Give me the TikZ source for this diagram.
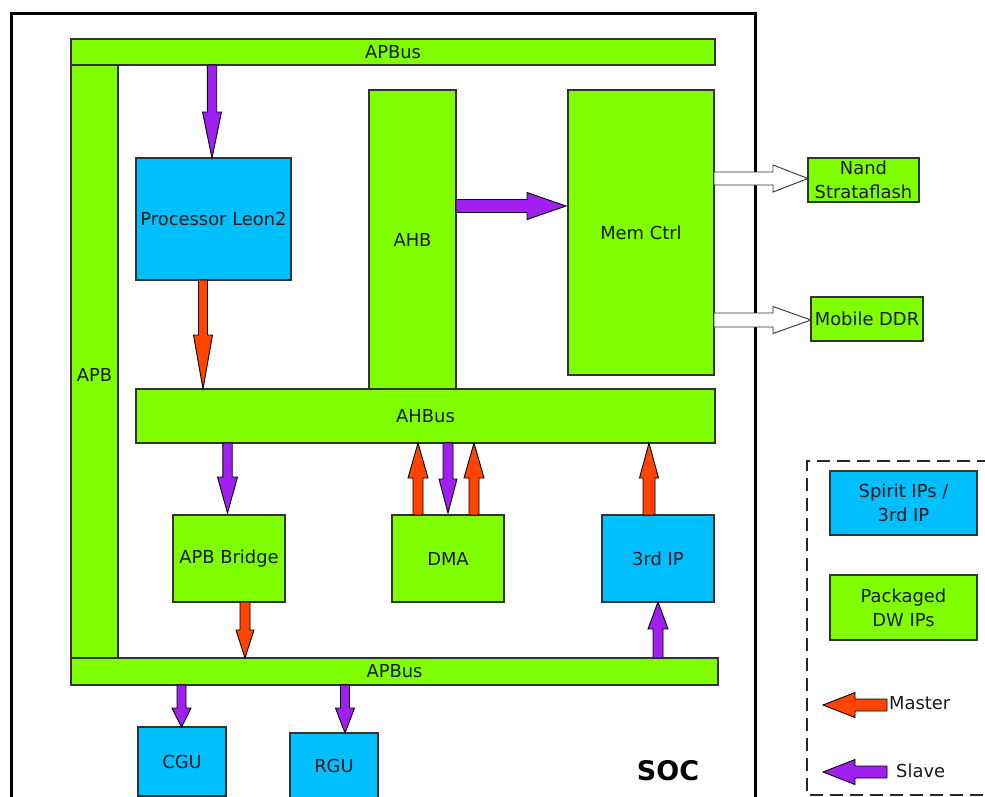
\documentclass[tikz,border=0pt]{standalone}
\usepackage{fontspec}
\setmainfont{DejaVu Sans}
\usetikzlibrary{calc}
\definecolor{grn}{RGB}{127,255,0}
\definecolor{blu}{RGB}{0,191,255}
\definecolor{orng}{RGB}{255,69,0}
\definecolor{purp}{RGB}{160,32,240}
\definecolor{txt}{RGB}{25,25,25}
\newcommand\fs{\fontsize{17.9}{24}\selectfont}
% block arrow: style, from, to, shaft half width, head half width, head length
\newcommand\barrow[6]{%
  \coordinate (ba-s) at #2;
  \coordinate (ba-e) at #3;
  \coordinate (ba-h) at ($(ba-e)!#6!(ba-s)$);
  \draw[#1] ($(ba-s)!#4!90:(ba-e)$) -- ($(ba-h)!#4!90:(ba-e)$) -- ($(ba-h)!#5!90:(ba-e)$) -- (ba-e) -- ($(ba-h)!#5!-90:(ba-e)$) -- ($(ba-h)!#4!-90:(ba-e)$) -- ($(ba-s)!#4!-90:(ba-e)$) -- cycle;}
\tikzset{
  box/.style={draw=black!80, line width=1.1pt, inner sep=0pt, outer sep=0pt, anchor=north west, align=center, font=\fs, text=txt},
  gbox/.style={box, fill=grn},
  bbox/.style={box, fill=blu},
  slavearr/.style={fill=purp, draw=black, line width=0.9pt, line join=miter},
  masterarr/.style={fill=orng, draw=black, line width=0.9pt, line join=miter},
  outarr/.style={fill=white, draw=black!80, line width=0.9pt, line join=miter},
  lbl/.style={font=\fs, text=txt, inner sep=0pt}
}
\begin{document}
\begin{tikzpicture}[x=1pt, y=-1pt]
\useasboundingbox (0,0) rectangle (985,796);
\clip (0,0) rectangle (985,796);
\fill[white] (0,0) rectangle (985,796);
% SOC frame
\draw[line width=3pt] (11,820) -- (11,13) -- (755,13) -- (755,820);
\node[font=\fontsize{27}{30}\selectfont\bfseries, inner sep=0pt] (soc) at (668,771) {SOC};
% legend frame
\draw[line width=1.3pt, dash pattern=on 13pt off 7pt, draw=black!85] (1010,461) -- (807,461) -- (807,795) -- (1010,795);

% blocks
\node[gbox, minimum width=644, minimum height=26] (apbT) at (71,39) {APBus};
\node[gbox, minimum width=47, minimum height=593] (apb) at (71,65) {};
\node[lbl] (apblbl) at (94.5,375) {APB};
\node[bbox, minimum width=155, minimum height=122] (proc) at (136,158) {Processor Leon2};
\node[gbox, minimum width=87, minimum height=300] (ahb) at (369,90) {AHB};
\node[gbox, minimum width=146, minimum height=285] (mem) at (568,90) {Mem Ctrl};
\node[gbox, minimum width=579, minimum height=54] (ahbus) at (136,389) {AHBus};
\node[gbox, minimum width=112, minimum height=87] (bridge) at (173,515) {APB Bridge};
\node[gbox, minimum width=112, minimum height=87] (dma) at (392,515) {DMA};
\node[bbox, minimum width=112, minimum height=87] (third) at (602,515) {3rd IP};
\node[gbox, minimum width=647, minimum height=27] (apbB) at (71,658) {APBus};
\node[bbox, minimum width=88, minimum height=69] (cgu) at (138,727) {CGU};
\node[bbox, minimum width=88, minimum height=66] (rgu) at (290,733) {RGU};
\node[gbox, minimum width=111, minimum height=44] (nand) at (808,158) {Nand\\Strataflash};
\node[gbox, minimum width=112, minimum height=44] (ddr) at (811,297) {Mobile DDR};
% legend
\node[bbox, minimum width=147, minimum height=64] (spirit) at (830,471) {Spirit IPs /\\3rd IP};
\node[gbox, minimum width=147, minimum height=65] (pack) at (830,575) {Packaged\\DW IPs};
\coordinate (mA) at (887,705);
\coordinate (mB) at (823,705);
\coordinate (sA) at (887,772);
\coordinate (sB) at (823,772);
\node[lbl, anchor=west] (mlbl) at (889,703) {Master};
\node[lbl, anchor=west] (slbl) at (896,771) {Slave};

% connectors
\barrow{slavearr}{(212,0 |- apbT.south)}{(212,0 |- proc.north)}{4.7pt}{9.5pt}{46pt}
\barrow{masterarr}{(203,0 |- proc.south)}{(203,0 |- ahbus.north)}{4.5pt}{9.5pt}{54pt}
\barrow{slavearr}{(ahb.east |- 0,206)}{(566,206)}{6.5pt}{13.5pt}{39pt}
\barrow{slavearr}{(227.5,0 |- ahbus.south)}{(227.5,513)}{4.7pt}{10pt}{36pt}
\barrow{masterarr}{(418,0 |- dma.north)}{(418,0 |- ahbus.south)}{5pt}{10pt}{35pt}
\barrow{masterarr}{(474,0 |- dma.north)}{(474,0 |- ahbus.south)}{5pt}{10pt}{35pt}
\barrow{slavearr}{(448,0 |- ahbus.south)}{(448,513)}{5pt}{9pt}{34pt}
\barrow{masterarr}{(649,0 |- third.north)}{(649,0 |- ahbus.south)}{6pt}{9.5pt}{35pt}
\barrow{masterarr}{(245,0 |- bridge.south)}{(245,0 |- apbB.north)}{5pt}{9pt}{28pt}
\barrow{slavearr}{(658,0 |- apbB.north)}{(658,0 |- third.south)}{5pt}{10pt}{27pt}
\barrow{slavearr}{(181.5,0 |- apbB.south)}{(181.5,0 |- cgu.north)}{4.5pt}{9.5pt}{19pt}
\barrow{slavearr}{(345,0 |- apbB.south)}{(345,0 |- rgu.north)}{4.5pt}{9.5pt}{25pt}
\barrow{outarr}{(mem.east |- 0,178.5)}{(nand.west |- 0,178.5)}{6.5pt}{13.5pt}{35pt}
\barrow{outarr}{(mem.east |- 0,320)}{(ddr.west |- 0,320)}{7pt}{13.5pt}{38pt}
\barrow{masterarr}{(mA)}{(mB)}{6pt}{12.5pt}{32pt}
\barrow{slavearr}{(sA)}{(sB)}{6pt}{12.5pt}{32pt}
\end{tikzpicture}
\end{document}
